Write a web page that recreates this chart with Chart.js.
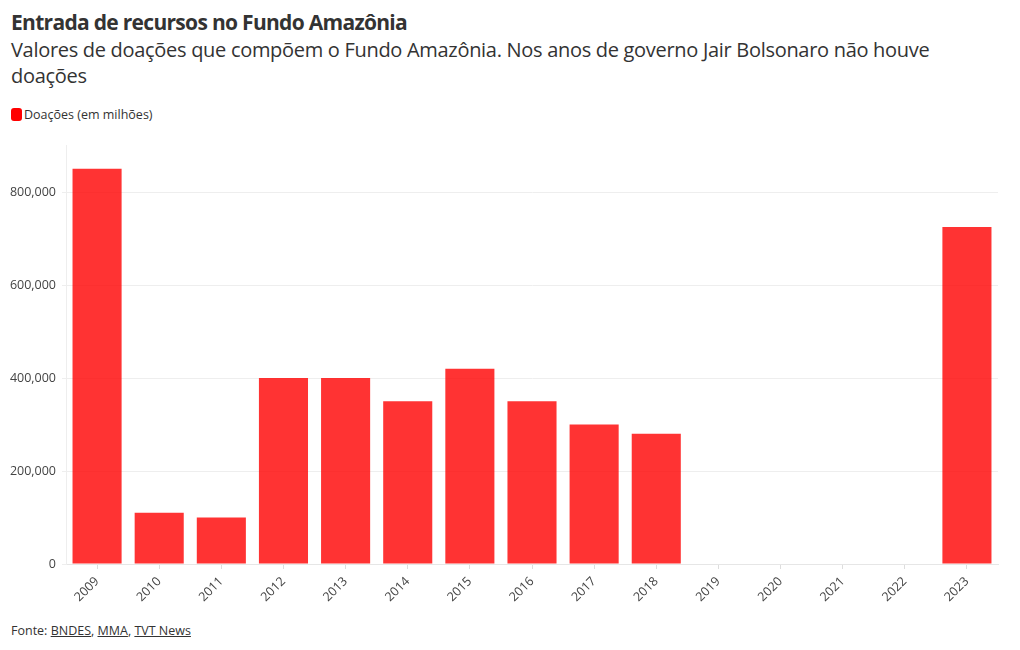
<!DOCTYPE html>
<html>
<head>
<meta charset="utf-8">
<script src="https://cdn.jsdelivr.net/npm/chart.js@4"></script>
<style>
    body { margin: 0; background: #fff; font-family: "Open Sans", sans-serif; color: #333; }
    #title { position: absolute; left: 11px; top: 8px; font-size: 21px; font-weight: 700; letter-spacing: -0.7px; color: #333; }
    #subtitle { position: absolute; left: 11px; top: 37px; width: 955px; font-size: 20px; line-height: 26px; letter-spacing: -0.3px; color: #333; }
    #legend { position: absolute; left: 11px; top: 106px; font-size: 12.5px; color: #333; }
    #legend span { display: inline-block; width: 11px; height: 13px; background: #f00; border-radius: 3px; vertical-align: -2px; margin-right: 2px; }
    #footer { position: absolute; left: 11px; top: 622px; font-size: 12.5px; color: #333; }
    #footer u { text-decoration: underline; }
    #box { position: absolute; left: 0; top: 132px; width: 1020px; height: 477px; }
</style>
</head>
<body>
<div id="title">Entrada de recursos no Fundo Amazônia</div>
<div id="subtitle">Valores de doações que compõem o Fundo Amazônia. Nos anos de governo Jair Bolsonaro não houve doações</div>
<div id="legend"><span></span>Doações (em milhões)</div>
<div id="box"><canvas id="chart"></canvas></div>
<div id="footer">Fonte: <u>BNDES</u>, <u>MMA</u>, <u>TVT News</u></div>
<script>
let years = ['2009', '2010', '2011', '2012', '2013', '2014', '2015', '2016', '2017', '2018', '2019', '2020', '2021', '2022', '2023'];
let donations = [850000, 110000, 100000, 400000, 400000, 350000, 420000, 350000, 300000, 280000, 0, 0, 0, 0, 725000];
let yTicks = [0, 200000, 400000, 600000, 800000];

let tickFont = { family: '"Open Sans", sans-serif', size: 12.5 };

let ctx = document.getElementById('chart').getContext('2d');
let chart = new Chart(ctx, {
    type: 'bar',
    data: {
        labels: years,
        datasets: [{
            label: 'Doações (em milhões)',
            data: donations,
            backgroundColor: 'rgba(255, 0, 0, 0.8)',
            barPercentage: 0.79,
            categoryPercentage: 1
        }]
    },
    options: {
        responsive: true,
        maintainAspectRatio: false,
        animation: false,
        layout: { padding: { top: 5, right: 22, left: 0, bottom: 0 } },
        plugins: {
            legend: { display: false },
            tooltip: { enabled: false }
        },
        scales: {
            x: {
                grid: { offset: false, drawOnChartArea: false, drawTicks: true, tickLength: 5, color: '#ddd' },
                border: { color: '#e6e6e6' },
                ticks: { color: '#444', font: tickFont, maxRotation: 45, minRotation: 45, padding: 5 },
                afterFit: function (scale) { scale.height = 45; }
            },
            y: {
                min: 0,
                max: 900000,
                afterBuildTicks: function (scale) {
                    scale.ticks = yTicks.map(function (v) { return { value: v }; });
                },
                grid: { color: '#eeeeee', tickLength: 4 },
                border: { color: '#eeeeee' },
                ticks: {
                    color: '#444',
                    font: tickFont,
                    padding: 6,
                    callback: function (v) { return v.toLocaleString('en-US'); }
                },
                afterFit: function (scale) { scale.width = 66; }
            }
        }
    }
});
</script>
</body>
</html>
